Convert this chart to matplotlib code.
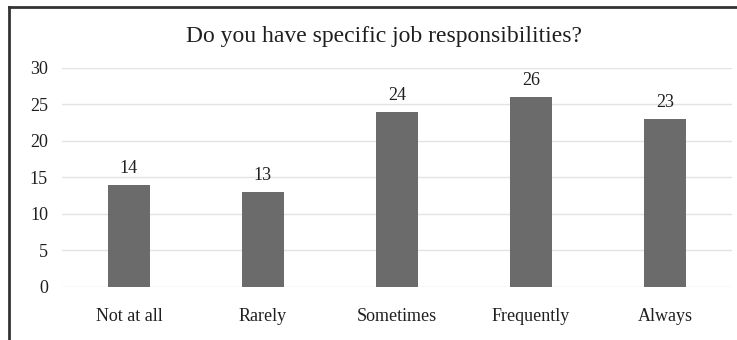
import matplotlib.pyplot as plt
from matplotlib.lines import Line2D

categories = ['Not at all', 'Rarely', 'Sometimes', 'Frequently', 'Always']
counts = [14, 13, 24, 26, 23]
yticks = [0, 5, 10, 15, 20, 25, 30]

plt.rcParams['font.family'] = 'Liberation Serif'

fig = plt.figure(figsize=(7.37, 3.4), dpi=100)
ax = fig.add_axes([0.084, 0.156, 0.909, 0.644])

x = range(len(categories))
bars = ax.bar(x, counts, width=0.31, color='#6b6b6b', zorder=3)
for b, v in zip(bars, counts):
    ax.text(b.get_x() + b.get_width() / 2, v + 1.1, str(v),
            ha='center', va='bottom', fontsize=13, color='#1f1f1f')

ax.set_xlim(-0.5, len(categories) - 0.5)
ax.set_ylim(0, 30)
ax.set_yticks(yticks)
ax.set_xticks(list(x))
ax.set_xticklabels(categories, fontsize=13, color='#1f1f1f')
ax.tick_params(axis='y', labelsize=13, labelcolor='#1f1f1f', length=0, pad=10)
ax.tick_params(axis='x', length=0, pad=15)
ax.grid(axis='y', color='#e3e3e3', linewidth=1, zorder=0)
for s in ax.spines.values():
    s.set_visible(False)

fig.text(0.521, 0.892, 'Do you have specific job responsibilities?',
         ha='center', va='center', fontsize=17, color='#1f1f1f')

# outer frame: left and top edges
fig.add_artist(Line2D([0.012, 0.012], [0, 0.98], transform=fig.transFigure,
                      color='#333333', linewidth=2))
fig.add_artist(Line2D([0.012, 1.0], [0.98, 0.98], transform=fig.transFigure,
                      color='#333333', linewidth=2))

plt.savefig('out.png', dpi=100)
